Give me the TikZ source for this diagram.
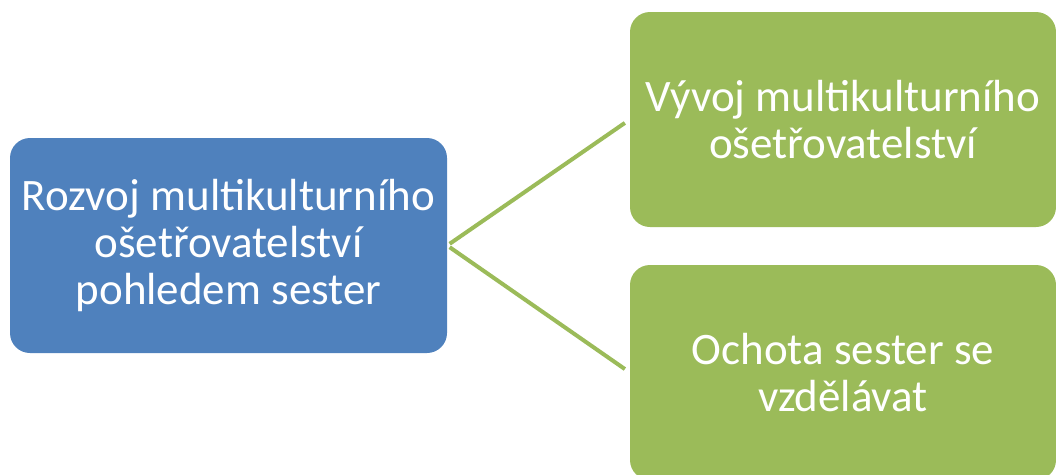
\documentclass[tikz,border=0pt]{standalone}
\usepackage{fontspec}
\setmainfont{Carlito}
\definecolor{boxblue}{HTML}{4F81BD}
\definecolor{boxgreen}{HTML}{9BBB59}
\begin{document}
\begin{tikzpicture}[x=1pt,y=-1pt,
  box/.style={rounded corners=20pt, minimum width=#1, minimum height=215pt, inner sep=0pt,
    text=white, align=center, font=\fontsize{45}{47}\selectfont},
  conn/.style={draw=boxgreen, line width=4pt}]
\useasboundingbox (0,0) rectangle (1056,474);
\clip (0,0) rectangle (1056,474);
\node[box=437pt, fill=boxblue] (root) at (228.5,245.5) {Rozvoj multikulturního\\ošetřovatelství\\pohledem sester};
\node[box=426pt, fill=boxgreen] (a) at (843,119.5) {Vývoj multikulturního\\ošetřovatelství};
\node[box=426pt, fill=boxgreen] (b) at (843,372.5) {Ochota sester se\\vzdělávat};
\draw[conn, shorten <=3pt, shorten >=6pt] (root.east) -- (a.west);
\draw[conn, shorten <=3pt, shorten >=6pt] (root.east) -- (b.west);
\end{tikzpicture}
\end{document}
